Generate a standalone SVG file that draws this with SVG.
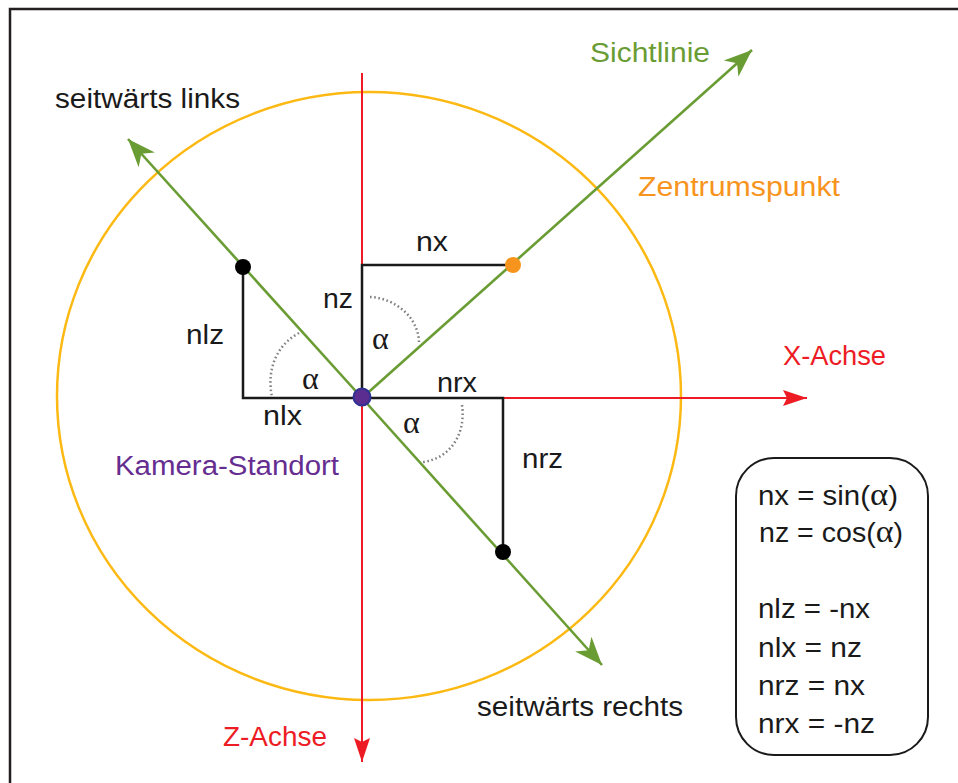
<svg xmlns="http://www.w3.org/2000/svg" width="958" height="783" viewBox="0 0 958 783">
<defs>
<style>
.lbl{font-family:"Liberation Sans",Arial,sans-serif;font-size:27px}
.alpha{font-family:"Liberation Serif","Times New Roman",serif;font-size:32px}
.blk{fill:#1a1a1a}
.ln{stroke:#1a1a1a;stroke-width:2.5;fill:none;stroke-linecap:square}
.grn{stroke:#6a9c34;stroke-width:2.6;fill:none}
.red{stroke:#ed1c24;stroke-width:2;fill:none}
.arc{stroke:#808080;stroke-width:2.5;fill:none;stroke-dasharray:1.6 2.6}
</style>
<marker id="ag" markerUnits="userSpaceOnUse" markerWidth="32" markerHeight="26" viewBox="-30 -13 32 26" refX="0" refY="0" orient="auto">
<path d="M0,0 L-28,-11 L-20,0 L-28,11 Z" fill="#6a9c34"/>
</marker>
<marker id="ar" markerUnits="userSpaceOnUse" markerWidth="30" markerHeight="20" viewBox="-26 -10 28 20" refX="0" refY="0" orient="auto">
<path d="M0,0 L-24,-8 L-20,0 L-24,8 Z" fill="#ed1c24"/>
</marker>
</defs>
<rect x="0" y="0" width="958" height="783" fill="#ffffff"/>
<rect x="10" y="9" width="980" height="800" fill="none" stroke="#231f20" stroke-width="2.5"/>

<g id="circle">
<ellipse cx="369" cy="396" rx="312" ry="304" fill="none" stroke="#fdb913" stroke-width="2.5"/>
</g>

<g id="connectors">
<line class="red" x1="362" y1="73" x2="362" y2="762" marker-end="url(#ar)"/>
<line class="red" x1="362" y1="398" x2="807" y2="398" marker-end="url(#ar)"/>
<path class="ln" d="M362,265 L513,265 M362,265 L362,398 M243,267 L243,398 L503,398 L503,552"/>
<line class="grn" x1="362" y1="398" x2="752" y2="50" marker-end="url(#ag)"/>
<line class="grn" x1="362" y1="398" x2="128" y2="139" marker-end="url(#ag)"/>
<line class="grn" x1="362" y1="398" x2="602" y2="665" marker-end="url(#ag)"/>
<path class="arc" d="M370,297 C394,298 418,316 419,342"/>
<path class="arc" d="M299,333 C278,344 266,368 272,397"/>
<path class="arc" d="M462,405 C466,432 452,458 423,462"/>
</g>

<g id="kamera">
<circle cx="362" cy="397" r="8.5" fill="#5c2d91" stroke="#2e3192" stroke-width="2"/>
<text class="lbl" x="115" y="475" fill="#662d91" textLength="224" lengthAdjust="spacingAndGlyphs">Kamera-Standort</text>
</g>
<g id="zentrum">
<circle cx="513" cy="265" r="8" fill="#f7941d"/>
<text class="lbl" x="638" y="196" fill="#f7941d" textLength="202" lengthAdjust="spacingAndGlyphs">Zentrumspunkt</text>
</g>
<g id="links">
<circle cx="243" cy="267" r="8" fill="#000"/>
<text class="lbl blk" x="55" y="108" textLength="185" lengthAdjust="spacingAndGlyphs">seitwärts links</text>
</g>
<g id="rechts">
<circle cx="503" cy="552" r="8" fill="#000"/>
<text class="lbl blk" x="477" y="716" textLength="206" lengthAdjust="spacingAndGlyphs">seitwärts rechts</text>
</g>
<g id="sichtlinie">
<text class="lbl" x="590" y="62" fill="#6a9c34" textLength="120" lengthAdjust="spacingAndGlyphs">Sichtlinie</text>
</g>
<g id="xachse">
<text class="lbl" x="783" y="365" fill="#ed1c24" textLength="103" lengthAdjust="spacingAndGlyphs">X-Achse</text>
</g>
<g id="zachse">
<text class="lbl" x="223" y="746" fill="#ed1c24" textLength="104" lengthAdjust="spacingAndGlyphs">Z-Achse</text>
</g>

<g id="labels">
<text class="lbl blk" x="416" y="251" textLength="32" lengthAdjust="spacingAndGlyphs">nx</text>
<text class="lbl blk" x="323" y="308" textLength="30" lengthAdjust="spacingAndGlyphs">nz</text>
<text class="lbl blk" x="186" y="344" textLength="38" lengthAdjust="spacingAndGlyphs">nlz</text>
<text class="lbl blk" x="263" y="425" textLength="39" lengthAdjust="spacingAndGlyphs">nlx</text>
<text class="lbl blk" x="437" y="392" textLength="40" lengthAdjust="spacingAndGlyphs">nrx</text>
<text class="lbl blk" x="522" y="468" textLength="41" lengthAdjust="spacingAndGlyphs">nrz</text>
<text class="alpha blk" x="372" y="349">α</text>
<text class="alpha blk" x="302" y="389">α</text>
<text class="alpha blk" x="403" y="433">α</text>
</g>

<g id="formeln">
<rect x="736" y="458" width="192" height="297" rx="38" ry="38" fill="none" stroke="#1a1a1a" stroke-width="2"/>
<text class="lbl blk" x="758" y="505" textLength="140" lengthAdjust="spacingAndGlyphs">nx = sin(<tspan class="alpha" font-size="30">α</tspan>)</text>
<text class="lbl blk" x="759" y="542" textLength="144" lengthAdjust="spacingAndGlyphs">nz = cos(<tspan class="alpha" font-size="30">α</tspan>)</text>
<text class="lbl blk" x="758" y="618" textLength="112" lengthAdjust="spacingAndGlyphs">nlz = -nx</text>
<text class="lbl blk" x="758" y="657" textLength="104" lengthAdjust="spacingAndGlyphs">nlx = nz</text>
<text class="lbl blk" x="758" y="695" textLength="107" lengthAdjust="spacingAndGlyphs">nrz = nx</text>
<text class="lbl blk" x="758" y="733" textLength="117" lengthAdjust="spacingAndGlyphs">nrx = -nz</text>
</g>
</svg>
